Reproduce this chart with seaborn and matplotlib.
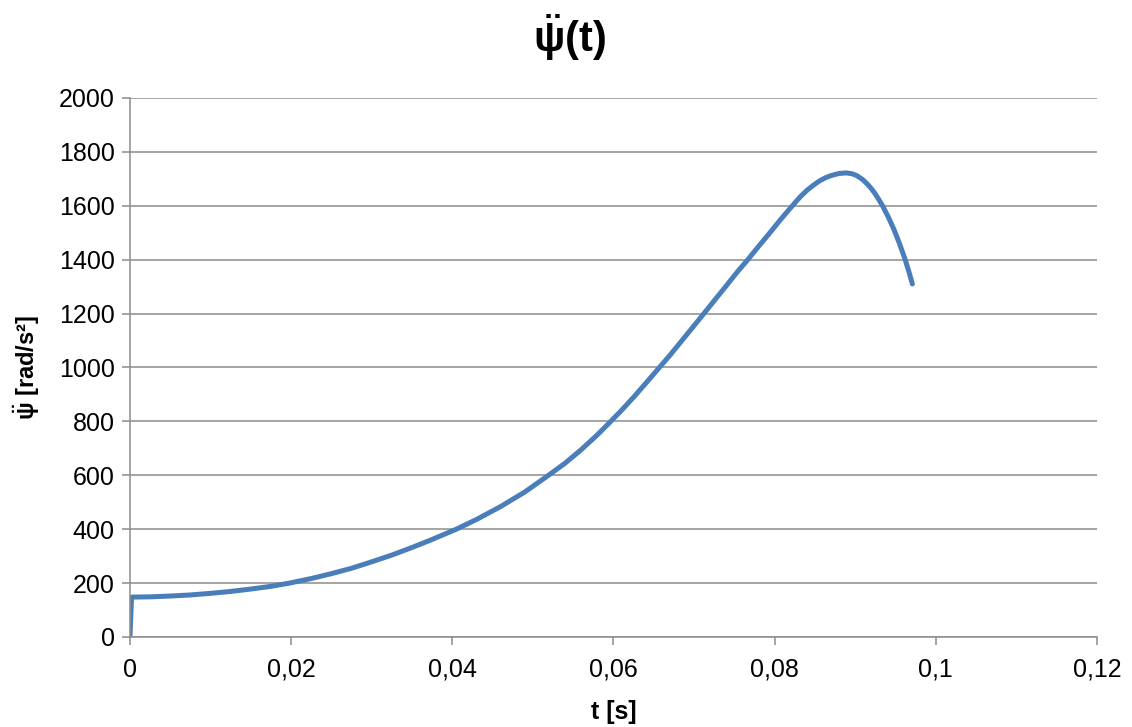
import matplotlib
matplotlib.use("Agg")
import matplotlib.pyplot as plt
from matplotlib.ticker import FuncFormatter, MultipleLocator
import seaborn as sns
import pandas as pd

# Data
t_values = [0, 0.0002, 0.0025, 0.005, 0.0075, 0.01, 0.0125, 0.015, 0.0175, 0.0198,
            0.0225, 0.025, 0.0275, 0.0297, 0.0325, 0.035, 0.0375, 0.0405, 0.043, 0.046,
            0.049, 0.0518, 0.054, 0.056, 0.058, 0.0595, 0.061, 0.0626, 0.064, 0.0657,
            0.067, 0.0685, 0.07, 0.0713, 0.0727, 0.074, 0.0753, 0.0767, 0.078, 0.0795,
            0.0808, 0.0822, 0.0832, 0.084, 0.0848, 0.0855, 0.0863, 0.087, 0.088, 0.0889,
            0.0896, 0.0902, 0.0909, 0.0915, 0.092, 0.0925, 0.093, 0.0934, 0.0941, 0.0948,
            0.0955, 0.0962, 0.0967, 0.0971]
psi_dd = [0, 148, 149, 152, 156, 162, 169, 178, 188, 200,
          217, 235, 255, 276, 304, 332, 362, 400, 436, 484,
          538, 597, 645, 695, 750, 795, 841, 893, 941, 1000,
          1045, 1100, 1155, 1203, 1255, 1303, 1352, 1401, 1449, 1503,
          1551, 1600, 1634, 1657, 1676, 1691, 1704, 1712, 1720, 1722,
          1719, 1712, 1698, 1681, 1664, 1644, 1620, 1600, 1559, 1513,
          1460, 1401, 1352, 1310]

title_text = r"$\mathbf{\ddot{\psi}}$(t)"
xlabel_text = "t [s]"
ylabel_text = r"$\mathbf{\ddot{\psi}}$ [rad/s²]"

sns.set_theme(style="white")
plt.rcParams['font.family'] = ['Liberation Sans', 'DejaVu Sans']
plt.rcParams['mathtext.fontset'] = 'custom'
plt.rcParams['mathtext.rm'] = 'Liberation Sans'
plt.rcParams['mathtext.it'] = 'Liberation Sans:italic'
plt.rcParams['mathtext.bf'] = 'Liberation Sans:bold'
plt.rcParams['text.color'] = 'black'
plt.rcParams['axes.labelcolor'] = 'black'

df = pd.DataFrame({"t": t_values, "psi": psi_dd})

fig = plt.figure(figsize=(11.32, 7.27), dpi=100)
ax = fig.add_axes([0.1148, 0.1238, 0.969 - 0.1148, 0.8652 - 0.1238])

sns.lineplot(data=df, x="t", y="psi", ax=ax, color="#4A7EBB", linewidth=3.6,
             sort=False, estimator=None)
ax.lines[0].set_solid_capstyle("round")
ax.lines[0].set_solid_joinstyle("round")

ax.set_xlim(0, 0.12)
ax.set_ylim(0, 2000)
ax.xaxis.set_major_locator(MultipleLocator(0.02))
ax.yaxis.set_major_locator(MultipleLocator(200))
ax.xaxis.set_major_formatter(FuncFormatter(lambda v, p: f"{round(v, 4):g}".replace(".", ",")))
ax.yaxis.set_major_formatter(FuncFormatter(lambda v, p: f"{int(round(v))}"))

ax.yaxis.grid(True, color="#8c8c8c", linewidth=1.1)
ax.xaxis.grid(False)
ax.set_axisbelow(True)

for side in ["top", "right"]:
    ax.spines[side].set_visible(False)
for side in ["left", "bottom"]:
    ax.spines[side].set_color("#8c8c8c")
    ax.spines[side].set_linewidth(1.1)

ax.tick_params(axis="both", which="major", direction="out", length=6, width=1.1,
               color="#8c8c8c", labelsize=18, labelcolor="black")
ax.tick_params(axis="x", bottom=True, pad=9)
ax.tick_params(axis="y", left=True, pad=5)

ax.set_xlabel(xlabel_text, fontsize=18, fontweight="bold", labelpad=13, color="black")
ax.set_ylabel(ylabel_text, fontsize=17, fontweight="bold", labelpad=12, color="black")
fig.suptitle(title_text, fontsize=30, fontweight="bold", x=0.503, y=0.982, color="black")

fig.savefig("out.png", dpi=100, facecolor="white")
